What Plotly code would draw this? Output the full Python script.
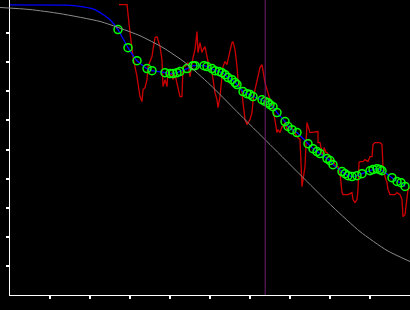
import plotly.graph_objects as go

# Gray reference curve
ref_x = [-0.25, 0.5, 1.25, 2.25, 2.75, 3.25, 3.825, 4.375, 5.0, 5.675, 6.5, 7.375, 8.075, 8.75, 9.425, 10.0]
ref_y = [9.88, 9.81, 9.67, 9.40, 9.17, 8.91, 8.50, 7.99, 7.23, 6.30, 5.17, 3.97, 3.02, 2.18, 1.53, 1.15]

# Blue fit lead-in (before first point)
lead_x = [0.0, 1.425, 1.75, 2.075, 2.325, 2.5]
lead_y = [9.97, 9.96, 9.92, 9.83, 9.64, 9.46]

# Green points
pt_x = [2.70, 2.95, 3.175, 3.425, 3.55, 3.875, 4.0, 4.075, 4.175, 4.25, 4.425, 4.575, 4.625, 4.85,
        4.925, 5.05, 5.125, 5.225, 5.30, 5.375, 5.45, 5.55, 5.625, 5.675, 5.825, 5.925, 6.0, 6.075,
        6.30, 6.375, 6.45, 6.50, 6.575, 6.675, 6.875, 6.95, 7.05, 7.175, 7.45, 7.575, 7.675, 7.75,
        7.925, 8.0, 8.075, 8.30, 8.375, 8.45, 8.55, 8.675, 8.80, 9.0, 9.075, 9.175, 9.25, 9.30,
        9.55, 9.675, 9.775, 9.875]
pt_y = [9.12, 8.50, 8.05, 7.78, 7.71, 7.64, 7.61, 7.61, 7.64, 7.68, 7.78, 7.88, 7.88, 7.88,
        7.85, 7.78, 7.71, 7.68, 7.64, 7.57, 7.47, 7.40, 7.30, 7.23, 6.99, 6.92, 6.89, 6.82,
        6.71, 6.65, 6.61, 6.54, 6.47, 6.27, 5.96, 5.79, 5.68, 5.58, 5.20, 5.03, 4.93, 4.86,
        4.69, 4.62, 4.48, 4.24, 4.17, 4.10, 4.07, 4.10, 4.17, 4.27, 4.31, 4.34, 4.31, 4.27,
        4.03, 3.90, 3.86, 3.73]

# Red raw series (pixel readings converted to data)
red_px = [119, 127, 130, 133, 137, 140, 142, 143, 145, 147, 148, 152, 153, 155, 157, 158, 160, 162, 163, 165,
          167, 168, 170, 172, 173, 175, 177, 178, 180, 182, 183, 185, 187, 188, 190, 192, 193, 195, 197, 198,
          200, 202, 203, 205, 207, 208, 210, 212, 213, 215, 217, 218, 220, 222, 223, 225, 227, 228, 230, 232,
          233, 235, 237, 238, 240, 242, 243, 245, 247, 248, 250, 252, 253, 255, 257, 258, 260, 262, 263, 265,
          267, 268, 270, 272, 273, 275, 277, 278, 280, 282, 283, 285, 287, 290, 293, 297, 300, 302, 305, 307,
          310, 318, 318, 320, 322, 323, 324, 326, 327, 328, 330, 332, 333, 335, 337, 338, 340, 342, 343, 348,
          352, 353, 355, 357, 358, 359, 360, 363, 365, 368, 370, 372, 373, 375, 380, 382, 383, 385, 387, 388,
          390, 392, 395, 397, 400, 402, 403, 405, 407, 408, 410]
red_py = [5, 5, 33, 57, 77, 97, 102, 90, 88, 80, 67, 57, 50, 38, 37, 40, 47, 60, 87, 80,
          87, 70, 77, 73, 80, 75, 83, 90, 97, 97, 67, 67, 65, 63, 77, 63, 58, 50, 32, 53,
          43, 53, 50, 47, 58, 65, 72, 73, 80, 93, 100, 108, 97, 80, 67, 62, 65, 60, 50, 43,
          42, 50, 67, 80, 87, 93, 103, 120, 125, 123, 120, 113, 102, 90, 80, 77, 68, 65, 73, 83,
          90, 93, 100, 103, 110, 120, 133, 130, 133, 127, 127, 123, 130, 128, 130, 137, 140, 187, 167, 123,
          133, 132, 143, 143, 153, 158, 148, 153, 153, 155, 158, 160, 162, 165, 167, 167, 173, 193, 195, 195,
          193, 200, 203, 200, 190, 163, 162, 162, 160, 162, 157, 157, 145, 143, 143, 145, 167, 177, 183, 190,
          195, 195, 195, 193, 195, 200, 217, 215, 197, 190, 188]
raw_x = [(p - 10) / 40 for p in red_px]
raw_y = [(295.4 - p) / 29.1 for p in red_py]

marker_x = 6.38
tick_vals = [1, 2, 3, 4, 5, 6, 7, 8, 9]
y_top = 295 / 29.1

fig = go.Figure()
fig.add_trace(go.Scatter(x=ref_x, y=ref_y, mode="lines", line=dict(color="#8c8c8c", width=1, shape="spline", smoothing=0.6),
                         xaxis="x2", yaxis="y2", hoverinfo="skip"))
fig.add_trace(go.Scatter(x=raw_x, y=raw_y, mode="lines", line=dict(color="#cc0000", width=1.3)))
fig.add_trace(go.Scatter(x=lead_x + pt_x, y=lead_y + pt_y, mode="lines",
                         line=dict(color="#0000ff", width=1.3, shape="spline", smoothing=0.5)))
fig.add_trace(go.Scatter(x=pt_x, y=pt_y, mode="markers",
                         marker=dict(symbol="circle-open", size=8, color="#00ff00", line=dict(width=1.5))))
fig.add_vline(x=marker_x, line=dict(color="#701f70", width=1))

axis_common = dict(showgrid=False, zeroline=False, showline=True, linecolor="white", linewidth=1,
                   ticks="outside", ticklen=3, tickwidth=1.5, tickcolor="white", showticklabels=False,
                   tickvals=tick_vals)
fig.update_layout(
    width=410, height=310, margin=dict(l=0, r=0, t=0, b=15),
    paper_bgcolor="black", plot_bgcolor="rgba(0,0,0,0)", showlegend=False,
    xaxis=dict(domain=[10 / 410, 1], range=[0, 10], anchor="y", **axis_common),
    yaxis=dict(domain=[0, 1], range=[0, y_top], anchor="x", **axis_common),
    xaxis2=dict(domain=[0, 1], range=[-0.25, 10], anchor="y2", visible=False),
    yaxis2=dict(domain=[0, 1], range=[0, y_top], anchor="x2", visible=False),
)
fig.write_html("out.html")
